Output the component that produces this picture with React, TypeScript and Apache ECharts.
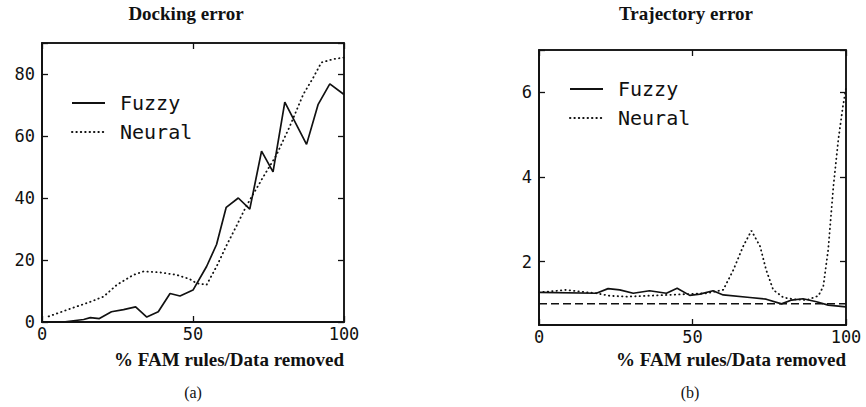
import React, { useEffect, useRef } from "react";
import * as echarts from "echarts";

// ---- Data ----
const dockFuzzy: [number, number][] = [
  [0, 0], [7, 0], [13.8, 0.8], [16, 1.4], [19, 1.1], [23, 3.3], [27, 4], [31, 4.9],
  [34.7, 1.6], [38.5, 3.3], [42.4, 9.2], [45.7, 8.4], [50, 10.3], [54.5, 17.9],
  [57.8, 25], [61, 37], [65, 40], [68.8, 36.4], [72.7, 55.1], [76.5, 48.4],
  [80.4, 70.9], [87.6, 57.3], [91.4, 70.1], [95.3, 76.8], [100, 73.4],
];
const dockNeural: [number, number][] = [
  [2.2, 1.8], [9.4, 4.3], [16, 6.5], [20.4, 8.2], [24.8, 12], [30.3, 15.2],
  [33.6, 16.3], [39, 16], [44.6, 15.2], [49, 13.8], [51.2, 12.5], [54.5, 12],
  [57.8, 17.9], [61, 24.5], [64.4, 31], [67.7, 37.5], [73.2, 46.7], [77.6, 53.8],
  [82, 63], [86.5, 73.4], [89.8, 78.8], [92.5, 83.7], [96.4, 84.8], [100, 85.3],
];
const trajFuzzy: [number, number][] = [
  [0, 1.27], [18.7, 1.25], [22.5, 1.36], [26.3, 1.33], [30.7, 1.25], [36, 1.31],
  [41.5, 1.25], [45, 1.37], [49.1, 1.2], [52.4, 1.23], [56.7, 1.31], [60, 1.21],
  [68.7, 1.15], [74, 1.11], [79, 1.0], [82.3, 1.09], [86, 1.12], [90.4, 1.05],
  [94.2, 0.97], [100, 0.93],
];
const trajNeural: [number, number][] = [
  [0, 1.27], [9, 1.33], [12, 1.3], [18.7, 1.25], [23, 1.19], [28.5, 1.17], [35, 1.19],
  [41.5, 1.21], [48, 1.23], [54.6, 1.25], [60, 1.33], [63.3, 1.8], [66.5, 2.36],
  [69.2, 2.73], [72, 2.36], [74, 1.8], [76.3, 1.33], [79.6, 1.15], [82.8, 1.11],
  [87.2, 1.09], [91, 1.19], [92.6, 1.41], [94.2, 2.28], [95.9, 3.78], [97.5, 4.88],
  [99, 5.67], [100, 6.1],
];
const trajReference: [number, number][] = [[0, 1.0], [100, 1.0]];

const xTicks = [0, 50, 100];
const dockYTicks = [0, 20, 40, 60, 80];
const trajYTicks = [2, 4, 6];
const dockYRange: [number, number] = [0, 90];
const trajYRange: [number, number] = [0.5, 7];

const seriesNames = ["Fuzzy", "Neural"];
const titles = ["Docking error", "Trajectory error"];
const xAxisTitle = "% FAM rules/Data removed";
const panelLabels = ["(a)", "(b)"];

const MONO = "'DejaVu Sans Mono', 'Liberation Mono', monospace";
const SERIF = "'Liberation Serif', 'DejaVu Serif', serif";
const INK = "#111";

type Grid = { left: number; top: number; width: number; height: number };
type PanelCfg = {
  grid: Grid;
  yRange: [number, number];
  yTicks: number[];
  fuzzy: [number, number][];
  neural: [number, number][];
  reference?: [number, number][];
  legendPos: { left: number; top: number };
  title: string;
  titleX: number;
  label: string;
  labelX: number;
};

// ---- main chart: data, labels, legend, texts ----
function buildDataOption(c: PanelCfg) {
  const [yMin, yMax] = c.yRange;
  const solid = { color: INK, width: 1.7, type: "solid" };
  const dotted = { color: INK, width: 1.8, type: [0.4, 4], cap: "round" };
  const labelStyle = (vals: number[], margin: number) => ({
    show: true,
    customValues: vals,
    margin,
    color: INK,
    fontFamily: MONO,
    fontSize: 17,
  });
  const series: any[] = [
    { name: seriesNames[0], type: "line", data: c.fuzzy, symbol: "none", lineStyle: solid, itemStyle: { color: INK } },
    { name: seriesNames[1], type: "line", data: c.neural, symbol: "none", lineStyle: dotted, itemStyle: { color: INK } },
  ];
  if (c.reference) {
    series.push({ name: "reference", type: "line", data: c.reference, symbol: "none", lineStyle: { color: INK, width: 1.5, type: [8, 4] }, itemStyle: { color: INK } });
  }
  return {
    animation: false,
    backgroundColor: "#fff",
    grid: { ...c.grid, show: false },
    xAxis: {
      type: "value",
      min: 0,
      max: 100,
      axisLine: { show: true, onZero: false, lineStyle: { color: INK, width: 1.5 } },
      axisTick: { show: false },
      axisLabel: labelStyle(xTicks, 3),
      splitLine: { show: false },
    },
    yAxis: {
      type: "value",
      min: yMin,
      max: yMax,
      axisLine: { show: true, onZero: false, lineStyle: { color: INK, width: 1.5 } },
      axisTick: { show: false },
      axisLabel: labelStyle(c.yTicks, 7),
      splitLine: { show: false },
    },
    legend: {
      orient: "vertical",
      left: c.legendPos.left,
      top: c.legendPos.top,
      itemWidth: 33,
      itemHeight: 14,
      itemGap: 9,
      data: seriesNames,
      selectedMode: false,
      itemStyle: { opacity: 0 },
      textStyle: { fontFamily: MONO, fontSize: 20, color: INK, padding: [0, 0, 0, 10] },
    },
    series,
    graphic: [
      { type: "text", x: c.titleX, y: 4, style: { text: c.title, font: `bold 19px ${SERIF}`, fill: INK, textAlign: "center" } },
      { type: "text", x: c.grid.left + c.grid.width, y: 350, style: { text: xAxisTitle, font: `bold 19px ${SERIF}`, fill: INK, textAlign: "right" } },
      { type: "text", x: c.labelX, y: 384, style: { text: c.label, font: `16px ${SERIF}`, fill: INK, textAlign: "center" } },
    ],
  };
}

const tickStyle = { show: true, inside: true, length: 6, lineStyle: { color: INK, width: 1.3 } };
const lineStyle = { show: true, onZero: false, lineStyle: { color: INK, width: 1.5 } };

// ---- overlay 1: frame box + x ticks on bottom and top ----
function buildFrameOption(c: PanelCfg) {
  const [yMin, yMax] = c.yRange;
  const xAx = (pos: string) => ({
    type: "value", gridIndex: 0, position: pos, min: 0, max: 100, interval: xTicks[1] - xTicks[0],
    axisLine: lineStyle, axisTick: tickStyle, axisLabel: { show: false }, splitLine: { show: false },
  });
  const yAx = (pos: string) => ({
    type: "value", gridIndex: 0, position: pos, min: yMin, max: yMax,
    axisLine: lineStyle, axisTick: { show: false }, axisLabel: { show: false }, splitLine: { show: false },
  });
  return {
    animation: false,
    backgroundColor: "transparent",
    grid: [{ ...c.grid, show: true, borderColor: INK, borderWidth: 1.5, backgroundColor: "transparent" }],
    xAxis: [xAx("bottom"), xAx("top")],
    yAxis: [yAx("left"), yAx("right")],
    series: [{ type: "line", data: [], symbol: "none" }],
  };
}

// ---- overlay 2: y ticks on left and right (axis counted from the first tick) ----
function buildYTickOption(c: PanelCfg) {
  const [yMin, yMax] = c.yRange;
  const first = c.yTicks[0];
  const step = c.yTicks[1] - c.yTicks[0];
  const h = (c.grid.height * (yMax - first)) / (yMax - yMin);
  const yAx = (pos: string) => ({
    type: "value", gridIndex: 0, position: pos, min: first, max: yMax, interval: step,
    axisLine: { show: false, onZero: false }, axisTick: tickStyle, axisLabel: { show: false }, splitLine: { show: false },
  });
  return {
    animation: false,
    backgroundColor: "transparent",
    grid: [{ left: c.grid.left, top: c.grid.top, width: c.grid.width, height: h, show: false }],
    xAxis: [{ type: "value", gridIndex: 0, min: 0, max: 100, show: false }],
    yAxis: [yAx("left"), yAx("right")],
    series: [{ type: "line", data: [], symbol: "none" }],
  };
}

const panels: PanelCfg[] = [
  {
    grid: { left: 42, top: 43, width: 302, height: 279 },
    yRange: dockYRange,
    yTicks: dockYTicks,
    fuzzy: dockFuzzy,
    neural: dockNeural,
    legendPos: { left: 66, top: 88 },
    title: titles[0],
    titleX: 186,
    label: panelLabels[0],
    labelX: 193,
  },
  {
    grid: { left: 106, top: 50, width: 307, height: 275 },
    yRange: trajYRange,
    yTicks: trajYTicks,
    fuzzy: trajFuzzy,
    neural: trajNeural,
    reference: trajReference,
    legendPos: { left: 131, top: 74 },
    title: titles[1],
    titleX: 253,
    label: panelLabels[1],
    labelX: 257,
  },
];

function Layer({ option, left, z }: { option: any; left: number; z: number }) {
  const ref = useRef<HTMLDivElement>(null);
  useEffect(() => {
    const chart = echarts.init(ref.current!, undefined, { renderer: "svg" });
    chart.setOption(option);
    return () => chart.dispose();
  }, [option]);
  return (
    <div
      ref={ref}
      style={{ position: "absolute", left, top: 0, width: 433, height: 407, zIndex: z, pointerEvents: "none" }}
    />
  );
}

const layerOptions = panels.map((p) => [buildDataOption(p), buildFrameOption(p), buildYTickOption(p)]);

export default function App() {
  useEffect(() => {
    document.body.style.margin = "0";
  }, []);
  return (
    <div style={{ position: "relative", width: 866, height: 407 }}>
      {layerOptions.map((opts, i) =>
        opts.map((o, j) => <Layer key={i + "-" + j} option={o} left={i * 433} z={j + 1} />)
      )}
    </div>
  );
}
